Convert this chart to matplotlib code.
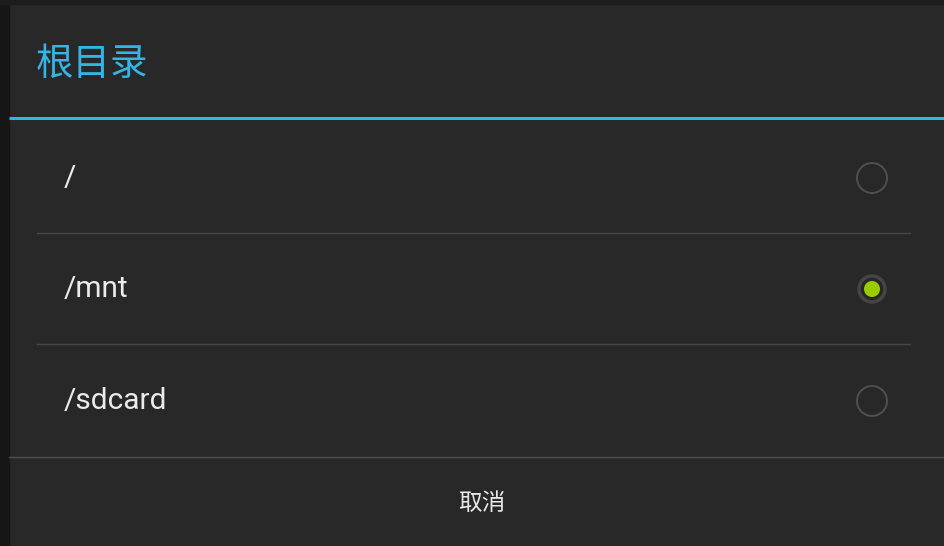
import matplotlib.pyplot as plt
from matplotlib.patches import Circle, Rectangle

plt.rcParams['font.family'] = ['Roboto', 'Noto Sans CJK SC', 'DejaVu Sans']

title = "根目录"
items = ["/", "/mnt", "/sdcard"]
selected = 1
button = "取消"

bg = "#282828"
blue = "#33b5e5"
green = "#99cc00"

fig = plt.figure(figsize=(9.45, 5.46), dpi=100, facecolor=bg)
ax = fig.add_axes([0, 0, 1, 1])
ax.set_xlim(0, 945)
ax.set_ylim(546, 0)
ax.axis("off")
ax.set_facecolor(bg)

# dark edges of the screenshot
ax.add_patch(Rectangle((0, 0), 9, 546, color="#161616", zorder=1))
ax.add_patch(Rectangle((0, 0), 945, 4, color="#1c1c1c", zorder=1))

# title + blue rule
ax.text(36, 64, title, color=blue, fontsize=27, va="center", ha="left",
        family=['Noto Sans CJK SC', 'DejaVu Sans'])
ax.plot([9, 945], [118, 118], color=blue, lw=2.2, solid_capstyle="butt")

row_y = [178, 289, 401]
for i, (label, y) in enumerate(zip(items, row_y)):
    ax.text(64, y, label, color="#ebebeb", fontsize=21.5, va="center", ha="left")
    if i == selected:
        ax.add_patch(Circle((872, y), 13, facecolor="none", edgecolor="#444444", lw=2.5))
        ax.add_patch(Circle((872, y), 8, facecolor=green, edgecolor="none"))
    else:
        ax.add_patch(Circle((872, y), 15, facecolor="none", edgecolor="#505050", lw=1.4))
    if i < len(items) - 1:
        ax.plot([37, 910], [y + 55, y + 55], color="#474747", lw=1)

# button bar
ax.plot([9, 945], [457, 457], color="#505050", lw=1)
ax.text(482, 503, button, color="#e8e8e8", fontsize=17, va="center", ha="center",
        family=['Noto Sans CJK SC', 'DejaVu Sans'])

fig.savefig("out.png", dpi=100, facecolor=bg)
